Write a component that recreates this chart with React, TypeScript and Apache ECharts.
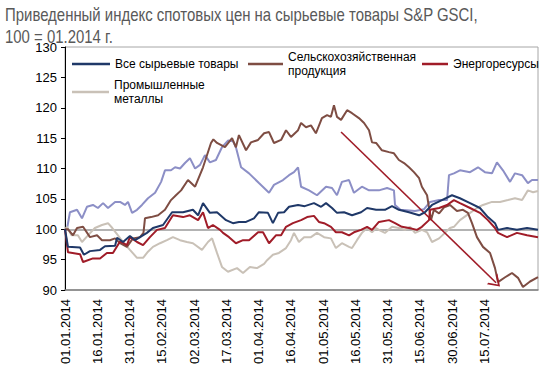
import React, { useEffect, useRef } from "react";
import * as echarts from "echarts";

// day offset from 01.01.2014, index value
const allCommodities: [number, number][] = [
  [0, 100], [1.4, 97.1], [7, 97], [8.8, 95.8], [11.6, 96.4], [16.3, 96.6], [18.6, 97.2], [23.3, 97.3], [24.2, 98.6], [27, 97.9],
  [30.2, 98.9], [32.6, 98.2], [38.1, 99.4], [40.9, 100.2], [45.6, 100.7], [49.8, 102.8], [54.9, 102.8], [59.5, 103.2], [61.9, 102.3],
  [64.2, 104.3], [67.4, 102.7], [70.7, 102.8], [74.9, 101.5], [78.1, 101], [80.9, 101.2], [84.2, 101.2], [87.9, 101.8], [90.2, 102.8],
  [94.4, 102.7], [96.7, 101], [99.1, 102.7], [101.9, 102.8], [104.2, 103.7], [108.4, 104], [111.5, 103.8], [115.8, 104.3], [119.1, 103.7],
  [121.4, 104.3], [124.2, 103.5], [126.5, 102.7], [129.8, 102.8], [133.5, 102.3], [137.7, 102.8], [140.5, 103.5], [144.7, 103.2],
  [148.8, 103.2], [152.1, 103.8], [155.3, 103.2], [160, 102.8], [164.7, 102.3], [167.4, 102.8], [170.7, 104], [175.3, 104.8],
  [180, 105.6], [183.7, 105.1], [188.4, 104.3], [193, 103.5], [196.7, 102], [200, 101], [201.4, 99.9], [205.6, 100.2], [210.2, 99.9],
  [214.9, 100.2], [220, 99.9],
];

const agriculture: [number, number][] = [
  [0, 100], [1.4, 100], [3.7, 99], [5.6, 100.2], [8.4, 100.4], [11.6, 98.7], [14.9, 99], [17.2, 98.2], [20.9, 98.2], [23.3, 98.5],
  [25.6, 97.7], [28.8, 97.1], [31.6, 98.5], [34.9, 98.7], [36.5, 99.4], [37.2, 101.8], [40, 102], [43.3, 102.3], [46.5, 103.2],
  [49.3, 104.8], [51.6, 105.6], [54, 106.4], [57.2, 108.1], [60.5, 107], [64.2, 110.2], [67.9, 114.2], [69, 114.8], [70.7, 114.2],
  [74.4, 113.5], [77.7, 115], [79.5, 113.5], [80.9, 115.5], [84.2, 113], [86.5, 114.3], [89.8, 114.7], [92.6, 115.8], [94.9, 116],
  [97.2, 114.2], [100.5, 114.7], [102.8, 116.3], [105.1, 115.2], [108.4, 116.3], [109.8, 117.5], [112.1, 116.8], [114.4, 117.1],
  [116.7, 115.8], [119.5, 118.3], [121.9, 118.8], [123.7, 118.5], [125.1, 120.4], [126.5, 118.5], [128.4, 118], [131.2, 119.6],
  [133.5, 119.1], [136.7, 118.3], [139.1, 117.5], [141.4, 116.3], [142.8, 114.3], [144.7, 114.2], [147.4, 113], [150.7, 112.7],
  [153, 112.5], [155.3, 111.4], [157.7, 110.9], [160, 110.2], [162.3, 109.4], [164.7, 108.4], [166, 107], [168.4, 105.6],
  [170.2, 101.5], [171.6, 103.2], [174, 102.6], [176.3, 103.6], [179.1, 104], [182.3, 103], [185.1, 103.2], [187.4, 102.7],
  [189.3, 101], [191.6, 98.7], [194.4, 97.1], [197.7, 96.1], [200, 93.6], [201.4, 91.3], [204.7, 92.1], [207.9, 92.8], [210.7, 92],
  [213, 90.5], [216.3, 91.4], [220, 92.1],
];

const energy: [number, number][] = [
  [0, 100], [1.4, 96.2], [7, 95.9], [8.4, 94.6], [13, 95.2], [16.3, 95.2], [19.5, 96.1], [22.3, 96.1], [25.6, 98], [28.8, 97.4],
  [30.2, 98.7], [33.5, 97.9], [36.3, 97.4], [39.5, 98.7], [42.8, 99.9], [46.5, 100.2], [50.2, 102.3], [54.9, 102], [58.1, 102.3],
  [61.9, 101.5], [64.2, 102.8], [66.5, 100.2], [68.8, 100.7], [72.1, 99.9], [73.5, 99.4], [76.3, 98.7], [79.5, 97.7], [82.8, 98.2],
  [85.6, 98.2], [89.8, 99.5], [92.1, 99.5], [94.9, 97.7], [98.1, 99], [100.5, 99], [102.8, 100.4], [106, 101], [109.8, 101.5],
  [112.6, 102], [115.8, 102.2], [118.1, 101.2], [120.5, 101], [123.7, 100.4], [126, 99.5], [128.8, 99.5], [132.1, 99], [134.4, 99.5],
  [137.7, 99.9], [140.5, 100.4], [142.8, 99.9], [146, 101.2], [150.7, 101.5], [153.5, 101], [156.7, 100.4], [160, 100.2],
  [163.7, 99.9], [166, 100.4], [169.3, 101.5], [169.8, 103.2], [174, 103.5], [177.7, 104], [180.9, 104.8], [183.7, 104.3],
  [188.4, 103.5], [193, 102.7], [196.7, 101.5], [200, 100.2], [201.4, 99.4], [205.6, 98.7], [210.2, 99.4], [214.9, 99], [220, 98.7],
];

const industrialMetals: [number, number][] = [
  [0, 100], [0.9, 100.4], [3, 99], [6, 99], [7.9, 97.9], [10.7, 99], [13.9, 100.2], [17.2, 100.7], [20, 101], [22, 100.2],
  [24.2, 99.2], [27, 97.9], [30.2, 96.6], [33.5, 95.3], [36.3, 95.3], [38.6, 96.3], [40.9, 97.1], [44.2, 97.7], [47.4, 98.2],
  [50.2, 98.7], [53.5, 98.2], [56.7, 97.9], [59.5, 97.7], [63.7, 96.6], [66.5, 97.9], [68.4, 98.5], [70.7, 96.1], [73, 93.8],
  [75.8, 93], [80, 93.6], [82.8, 92.8], [86, 93.8], [89.3, 93.6], [92.6, 94.3], [94, 94.9], [96.7, 95.8], [99.5, 96.1],
  [102.8, 96.9], [105.1, 98.2], [106.5, 99.4], [108.8, 97.9], [111.2, 98.7], [114.4, 98.7], [117.2, 99.4], [120.5, 98.7],
  [123.7, 98.5], [126, 96.9], [128.8, 97.7], [132.1, 97.1], [133.5, 96.9], [135.8, 98.2], [138.1, 99.4], [140.5, 100.2],
  [142.8, 99.5], [144.7, 100.2], [146, 99.9], [148.8, 99.4], [152.1, 100.4], [155.3, 100.2], [158.1, 99.9], [160.5, 100.4],
  [162.8, 99.4], [166, 99.9], [168.4, 99.5], [170.7, 97.9], [174, 98.5], [176.7, 99.4], [179.1, 100.2], [180.9, 100.4],
  [183.7, 101.5], [188.4, 102.7], [191.6, 103.5], [194.4, 104], [198.6, 104.5], [202.3, 104.5], [206, 104.8], [209.3, 105.1],
  [212.6, 104.8], [215.3, 106.4], [217.7, 106.1], [220, 106.3],
];

const preciousMetals: [number, number][] = [
  [0, 100], [0.9, 100], [2.3, 102.8], [5.6, 103.2], [7.9, 101.8], [10.2, 103.7], [13, 104], [15.3, 103.5], [17.7, 104.3],
  [20, 103.5], [23.3, 104.5], [25.6, 104.5], [27.9, 104], [29.3, 104.5], [31.2, 102.7], [33.5, 103.2], [35.8, 104],
  [38.6, 105.1], [41.9, 106], [44.7, 107.8], [46.5, 109.7], [49.3, 109.7], [51.2, 110.2], [53.5, 110], [55.8, 110.9],
  [58.1, 111.7], [60.5, 110], [62.8, 110.6], [65.1, 112.2], [67.4, 111], [70.2, 111.4], [73, 113.5], [75.8, 114.6],
  [78.1, 114.5], [79.5, 113.5], [81.9, 110.2], [85.6, 109.2], [90.2, 107.6], [94.9, 106], [97.2, 107.3], [101.4, 108.1],
  [104.2, 108.9], [106.5, 109.4], [108.4, 110.2], [109.8, 107], [113.5, 106.4], [117.2, 105.6], [121.4, 107], [124.2, 106.8],
  [126.5, 105.6], [128.8, 107.8], [132.1, 108.1], [134.4, 106], [138.1, 107], [141.4, 106.4], [146, 106.4], [149.8, 106.8],
  [153, 106.4], [153.5, 104], [156, 103.2], [162.8, 103], [167, 103.3], [169.8, 104.5], [174, 104.8], [177.7, 104.8],
  [178.6, 108.9], [180.9, 109.2], [183.7, 109.7], [188.4, 109.4], [192.1, 110.2], [195.3, 109.4], [198.6, 109.2], [200.9, 111],
  [203.7, 109.7], [207, 107.8], [209.3, 109.2], [212.6, 108.9], [215.3, 107.6], [217.2, 108.1], [220, 108.1],
];

// trend arrow (day, value)
const arrowStart: [number, number] = [128.4, 116];
const arrowEnd: [number, number] = [200.5, 91.2];

const yTicks = { min: 90, max: 130, step: 5 };
const xDays = { min: 0, max: 220, step: 15, lastLabel: 195 };
const baseLine = 100;

const titleLines = ["Приведенный индекс спотовых цен на сырьевые товары S&P GSCI,", "100 = 01.2014 г."];

const FONT = "'Liberation Sans', Arial, sans-serif";

function dayLabel(v: number): string {
  if (v > xDays.lastLabel + 1) return "";
  const d = new Date(Date.UTC(2014, 0, 1) + Math.round(v) * 86400000);
  const dd = String(d.getUTCDate()).padStart(2, "0");
  const mm = String(d.getUTCMonth() + 1).padStart(2, "0");
  return `${dd}.${mm}.${d.getUTCFullYear()}`;
}

export default function App() {
  const ref = useRef<HTMLDivElement>(null);
  useEffect(() => {
    document.body.style.margin = "0";
    if (!ref.current) return;
    const chart = echarts.init(ref.current, null, { renderer: "svg" });
    const legendText = { fontSize: 12, color: "#000", fontFamily: FONT, lineHeight: 14 };
    const legendBase = { padding: 0, icon: "rect", itemHeight: 2.5, textStyle: legendText };
    const line = (name: string, data: [number, number][], color: string, z: number) => ({
      name,
      type: "line",
      data,
      symbol: "none",
      z,
      lineStyle: { color, width: 2 },
      itemStyle: { color },
    });
    chart.setOption({
      animation: false,
      backgroundColor: "#fff",
      graphic: [
        {
          type: "text",
          left: 5,
          top: 4,
          scaleX: 0.83,
          style: {
            text: titleLines.join("\n"),
            fontSize: 18,
            lineHeight: 22,
            fill: "#595959",
            fontFamily: FONT,
          },
        },
      ],
      legend: [
        { ...legendBase, data: ["Все сырьевые товары"], left: 72, top: 57, itemWidth: 38 },
        { ...legendBase, data: ["Сельскохозяйственная\nпродукция"], left: 248, top: 50, itemWidth: 35 },
        { ...legendBase, data: ["Энергоресурсы"], left: 422, top: 57, itemWidth: 26 },
        { ...legendBase, data: ["Промышленные\nметаллы"], left: 72, top: 78, itemWidth: 37 },
      ],
      grid: { left: 65, right: 14, top: 47, bottom: 90, show: true, borderColor: "#a6a6a6", borderWidth: 1 },
      xAxis: {
        type: "value",
        min: xDays.min,
        max: xDays.max,
        interval: xDays.step,
        axisLine: { show: true, lineStyle: { color: "#808080", width: 1.5 } },
        axisTick: { show: false },
        splitLine: { show: false },
        axisLabel: { rotate: 90, fontSize: 13, color: "#000", fontFamily: FONT, margin: 9, formatter: dayLabel },
      },
      yAxis: {
        type: "value",
        min: yTicks.min,
        max: yTicks.max,
        interval: yTicks.step,
        axisLine: { show: true, lineStyle: { color: "#000", width: 1 } },
        axisTick: { show: true, length: 4, lineStyle: { color: "#000" } },
        splitLine: { show: false },
        axisLabel: { fontSize: 13, color: "#000", fontFamily: FONT, margin: 8 },
      },
      series: [
        {
          ...line("Драгоценные металлы", preciousMetals, "#8c8fc6", 2),
          markLine: {
            silent: true,
            symbol: ["none", "none"],
            label: { show: false },
            lineStyle: { color: "#9a9a9a", width: 1.5, type: "solid" },
            data: [{ yAxis: baseLine }],
            z: 1,
          },
        },
        line("Промышленные\nметаллы", industrialMetals, "#c9c1b7", 3),
        {
          ...line("Сельскохозяйственная\nпродукция", agriculture, "#7e4d43", 4),
          markLine: {
            silent: true,
            symbol: ["none", "path://M0,10 L5,0 L10,10 L8.6,10 L5,2.8 L1.4,10 Z"],
            symbolSize: [15, 11],
            label: { show: false },
            lineStyle: { color: "#a01c28", width: 1.6, type: "solid" },
            data: [[{ coord: arrowStart }, { coord: arrowEnd }]],
          },
        },
        line("Энергоресурсы", energy, "#a01c28", 5),
        line("Все сырьевые товары", allCommodities, "#1f3868", 6),
      ],
    });
    return () => chart.dispose();
  }, []);
  return <div ref={ref} style={{ width: 552, height: 380 }} />;
}
